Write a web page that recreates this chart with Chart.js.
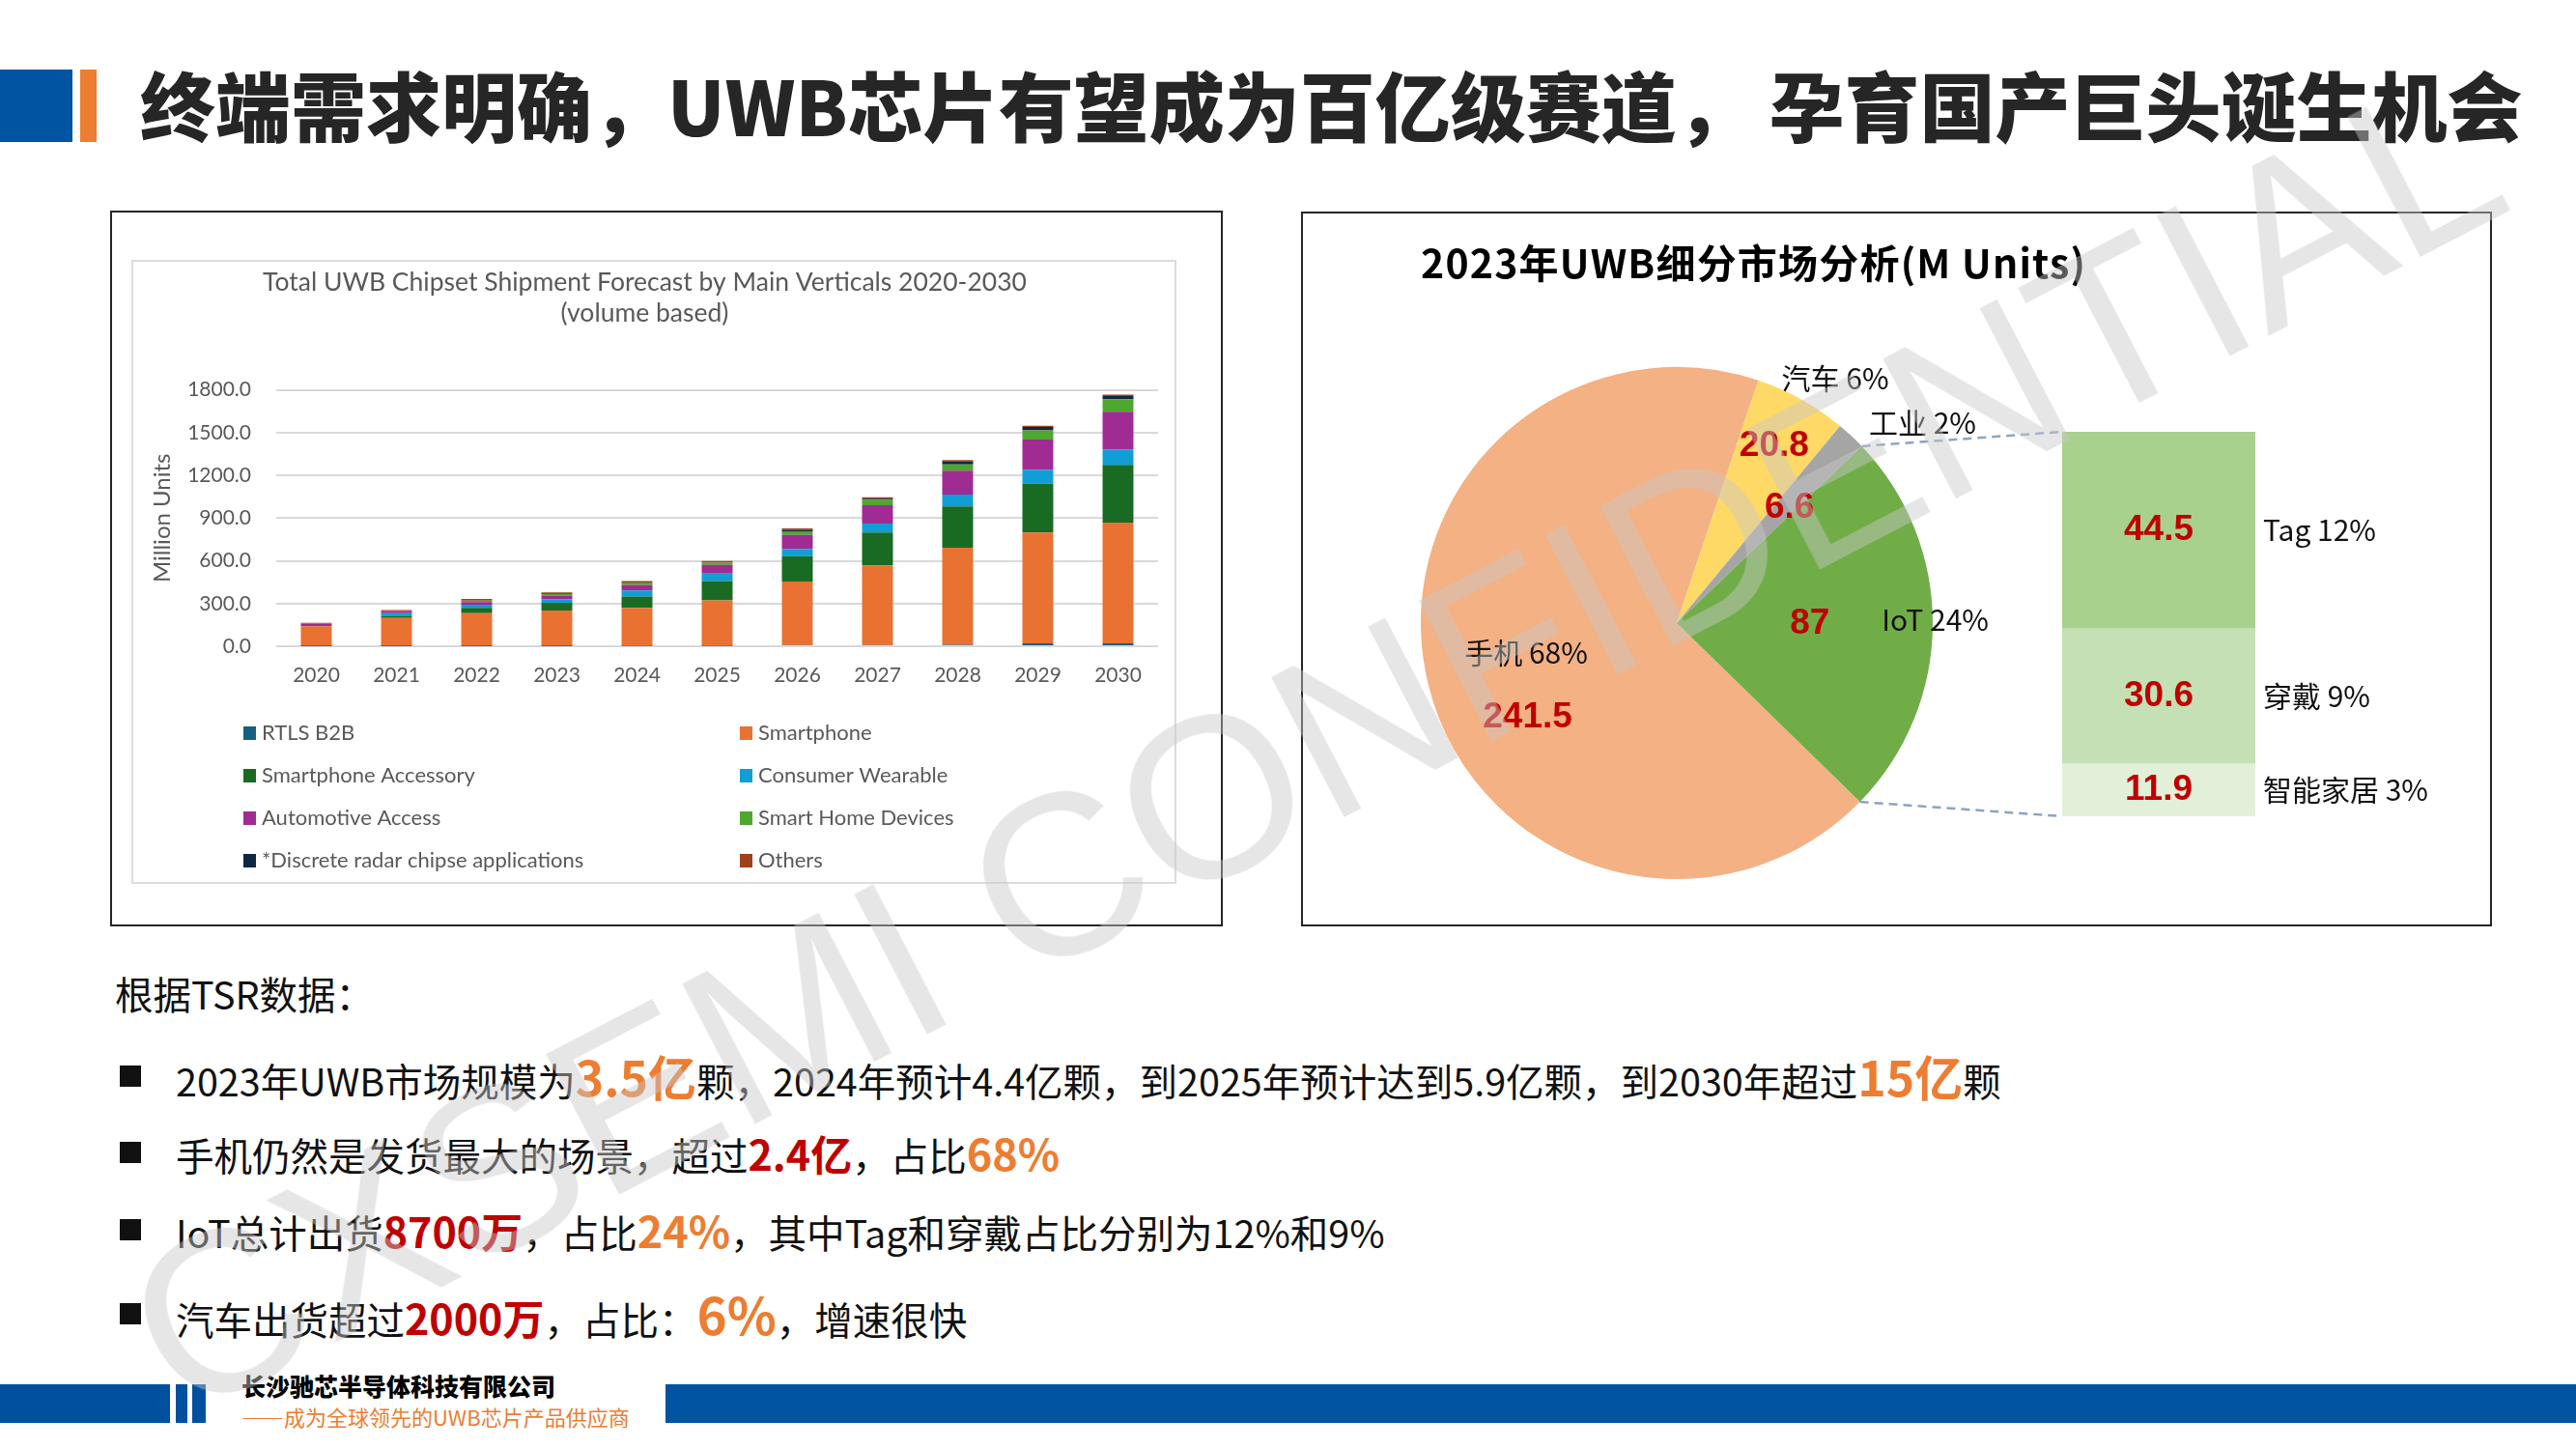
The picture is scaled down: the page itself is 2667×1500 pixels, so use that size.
<!DOCTYPE html>
<html lang="zh-CN">
<head>
<meta charset="UTF-8">
<title>UWB芯片市场</title>
<script src="https://cdn.jsdelivr.net/npm/chart.js"></script>
<style>
  body { margin:0; width:2667px; height:1500px; background:#fff; position:relative; overflow:hidden;
         font-family:"Noto Sans CJK SC", sans-serif; color:#111; }
  .abs { position:absolute; }
  .title { left:145px; top:68px; font-size:78px; line-height:78px; font-weight:900; color:#262626; white-space:nowrap; }
  .frame { border:2px solid #262626; box-sizing:border-box; }
  .inner { border:2px solid #dcdcdc; box-sizing:border-box; }
  .line { left:182px; height:50px; line-height:50px; font-size:39.5px; white-space:nowrap; }
  .line b { font-weight:700; }
  .o { color:#ED7D31; }
  .r { color:#C00000; }
  .sq { left:124px; width:22px; height:22px; background:#111; }
  .wm { left:-140px; top:651px; width:3000px; text-align:center; font:238px/238px "Liberation Sans", Arial, sans-serif;
        color:rgba(200,200,200,0.45); transform:rotate(-27.5deg); white-space:nowrap; pointer-events:none; }
</style>
</head>
<body>

<div class="abs" style="left:0;top:72px;width:75px;height:75px;background:#0054A2"></div>
<div class="abs" style="left:83px;top:72px;width:17px;height:75px;background:#ED7D31"></div>
<div class="abs title">终端需求明确，UWB芯片有望成为百亿级赛道， 孕育国产巨头诞生机会</div>

<div class="abs frame" style="left:114px;top:218px;width:1152px;height:741px"></div>
<div class="abs inner" style="left:136px;top:269px;width:1082px;height:646px"></div>
<canvas id="barChart" class="abs" style="left:136px;top:269px" width="1082" height="646"></canvas>

<div class="abs frame" style="left:1347px;top:219px;width:1233px;height:740px"></div>
<canvas id="pieChart" class="abs" style="left:1347px;top:219px" width="1233" height="740"></canvas>
<canvas id="iotChart" class="abs" style="left:1347px;top:219px" width="1233" height="740"></canvas>

<div class="abs line" style="left:119px;top:1003px">根据TSR数据：</div>
<div class="abs sq" style="top:1103px"></div>
<div class="abs line" style="top:1088px">2023年UWB市场规模为<b class="o" style="font-size:50px">3.5亿</b>颗，2024年预计4.4亿颗，到2025年预计达到5.9亿颗，到2030年超过<b class="o" style="font-size:50px">15亿</b>颗</div>
<div class="abs sq" style="top:1182px"></div>
<div class="abs line" style="top:1168px">手机仍然是发货最大的场景，超过<b class="r" style="font-size:43px">2.4亿</b>，占比<b class="o" style="font-size:45px">68%</b></div>
<div class="abs sq" style="top:1262px"></div>
<div class="abs line" style="top:1248px">IoT总计出货<b class="r" style="font-size:43px">8700万</b>，占比<b class="o" style="font-size:45px">24%</b>，其中Tag和穿戴占比分别为12%和9%</div>
<div class="abs sq" style="top:1349px"></div>
<div class="abs line" style="top:1334px">汽车出货超过<b class="r" style="font-size:43px">2000万</b>，占比：<b class="o" style="font-size:53px">6%</b>，增速很快</div>

<div class="abs" style="left:0;top:1433px;width:176px;height:40px;background:#0050A0"></div>
<div class="abs" style="left:182px;top:1433px;width:12px;height:40px;background:#0050A0"></div>
<div class="abs" style="left:199px;top:1433px;width:14px;height:40px;background:#0050A0"></div>
<div class="abs" style="left:689px;top:1433px;width:1978px;height:40px;background:#0054A2"></div>
<div class="abs" style="left:250px;top:1420px;font-size:25px;line-height:28px;font-weight:900;color:#000;white-space:nowrap">长沙驰芯半导体科技有限公司</div>
<div class="abs" style="left:250px;top:1453px;font-size:22px;line-height:26px;color:#ED7D31;white-space:nowrap">——成为全球领先的UWB芯片产品供应商</div>

<div class="abs wm">CXSEMI CONFIDENTIAL</div>

<script>
// ---------- 柱状图数据 (Million Units) ----------
const years = ['2020','2021','2022','2023','2024','2025','2026','2027','2028','2029','2030'];
const seriesNames = ['RTLS B2B','Smartphone','Smartphone Accessory','Consumer Wearable',
                     'Automotive Access','Smart Home Devices','*Discrete radar chipse applications','Others'];
const rtlsB2B    = [2, 2, 2, 2, 3, 3, 8, 8, 10, 20, 20];
const smartphone = [139, 196, 231, 249, 266, 319, 447, 560, 681, 778, 848];
const accessory  = [2, 16, 36, 54, 80, 136, 177, 230, 291, 343, 405];
const wearable   = [0, 19, 23, 26, 43, 52, 52, 63, 82, 98, 107];
const automotive = [16, 15, 18, 25, 39, 61, 98, 130, 168, 213, 266];
const smartHome  = [0, 0, 11, 11, 16, 16, 25, 36, 45, 64, 88];
const radar      = [0, 0, 0, 0, 0, 0, 11, 9, 21, 23, 23];
const others     = [6, 7, 12, 11, 11, 11, 9, 10, 9, 9, 9];
const yTicks = [0, 300, 600, 900, 1200, 1500, 1800];

// ---------- 饼图数据 ----------
const segLabels = ['手机', '汽车', '工业', 'IoT'];
const segValues = [241.5, 20.8, 6.6, 87];
const segPct    = ['68%', '6%', '2%', '24%'];
const iotLabels = ['智能家居', '穿戴', 'Tag'];
const iotValues = [11.9, 30.6, 44.5];
const iotPct    = ['3%', '9%', '12%'];

const seriesData = [rtlsB2B, smartphone, accessory, wearable, automotive, smartHome, radar, others];
const seriesColors = ['#156082','#E97132','#196B24','#0F9ED5','#A02B93','#4EA72E','#0E2841','#A0401A'];
const segColors = ['#F4B183', '#FFD966', '#A5A5A5', '#70AD47'];
const iotColors = ['#E2F0D9', '#C5E0B4', '#A9D18E'];

Chart.defaults.font.family = 'Lato';

// 两列图例
const colLegend = {
  id: 'colLegend',
  afterDraw(chart, args, o) {
    const ctx = chart.ctx;
    ctx.save();
    ctx.font = '22px Lato';
    ctx.textBaseline = 'middle';
    chart.data.datasets.forEach((ds, i) => {
      const x = o.xs[i % 2], y = o.y0 + Math.floor(i / 2) * o.dy;
      ctx.fillStyle = ds.backgroundColor;
      ctx.fillRect(x, y - 7, 13, 14);
      ctx.fillStyle = '#595959';
      ctx.fillText(ds.label, x + 19, y);
    });
    ctx.restore();
  }
};

new Chart(document.getElementById('barChart'), {
  type: 'bar',
  data: {
    labels: years,
    datasets: seriesNames.map((n, i) => ({
      label: n, data: seriesData[i], backgroundColor: seriesColors[i],
      borderWidth: 0, barPercentage: 0.385, categoryPercentage: 1
    }))
  },
  options: {
    responsive: false, animation: false,
    layout: { padding: { left: 0, right: 19, top: 0, bottom: 0 } },
    plugins: {
      legend: { display: false }, tooltip: { enabled: false },
      title: {
        display: true,
        text: ['Total UWB Chipset Shipment Forecast by Main Verticals 2020-2030', '(volume based)'],
        color: '#595959', font: { size: 26.5, weight: 'normal', lineHeight: 1.2 },
        padding: { top: 8, bottom: 63 }
      },
      colLegend: { xs: [116, 630], y0: 490, dy: 44 }
    },
    scales: {
      x: {
        stacked: true,
        grid: { display: false, drawTicks: false }, border: { display: false },
        ticks: { color: '#595959', font: { size: 21 }, padding: 18, maxRotation: 0 },
        afterFit: s => { s.height = 246; }
      },
      y: {
        stacked: true, min: 0, max: 1800,
        afterBuildTicks: s => { s.ticks = yTicks.map(v => ({ value: v })); },
        ticks: { callback: v => v.toFixed(1), color: '#595959', font: { size: 21 }, padding: 26 },
        grid: { color: '#d9d9d9', lineWidth: 2, drawTicks: false }, border: { display: false },
        title: { display: true, text: 'Million Units', color: '#595959', font: { size: 24 }, padding: { top: 18 } },
        afterFit: s => { s.width = 150; }
      }
    }
  },
  plugins: [colLegend]
});

// 饼图标题 + 标签: 名称和数值位置 (相对扇区中心角的偏移角度 a, 半径比例 f)
const pieLabels = {
  id: 'pieLabels',
  afterDraw(chart, args, o) {
    const ctx = chart.ctx;
    ctx.save();
    ctx.textBaseline = 'middle';
    ctx.textAlign = 'left';
    ctx.font = 'bold 41px "Noto Sans CJK SC"';
    ctx.letterSpacing = '1.2px';
    ctx.fillStyle = '#000';
    ctx.fillText(o.title, chart.chartArea.left, 53);
    ctx.letterSpacing = '0px';
    ctx.textAlign = 'center';
    chart.getDatasetMeta(0).data.forEach((arc, i) => {
      const mid = (arc.startAngle + arc.endAngle) / 2;
      const at = p => {
        const a = mid + p.a * Math.PI / 180;
        return [arc.x + Math.cos(a) * arc.outerRadius * p.f, arc.y + Math.sin(a) * arc.outerRadius * p.f];
      };
      let [x, y] = at(o.names[i]);
      ctx.font = '30px "Noto Sans CJK SC"';
      ctx.fillStyle = '#111';
      ctx.fillText(segLabels[i] + ' ' + segPct[i], x, y);
      [x, y] = at(o.values[i]);
      ctx.font = 'bold 37px "Liberation Sans", Arial';
      ctx.fillStyle = '#C00000';
      ctx.fillText(String(segValues[i]), x, y);
    });
    ctx.restore();
  }
};

const pieChart = new Chart(document.getElementById('pieChart'), {
  type: 'pie',
  data: { labels: segLabels, datasets: [{ data: segValues, backgroundColor: segColors, borderWidth: 0 }] },
  options: {
    responsive: false, animation: false, rotation: 134.3,
    layout: { padding: { left: 124, right: 579, top: 161, bottom: 49 } },
    plugins: {
      legend: { display: false }, tooltip: { enabled: false },
      pieLabels: {
        title: '2023年UWB细分市场分析(M Units)',
        names:  [{ a: 2.3, f: 0.60 }, { a: 3.8, f: 1.14 }, { a: 7.8, f: 1.24 }, { a: -1, f: 1.01 }],
        values: [{ a: -18.8, f: 0.69 }, { a: -0.3, f: 0.79 }, { a: 1.4, f: 0.63 }, { a: 0, f: 0.52 }]
      }
    }
  },
  plugins: [pieLabels]
});

// IoT 细分柱: 虚线连接 + 标签
const iotDeco = {
  id: 'iotDeco',
  beforeDatasetsDraw(chart) {
    const arc = pieChart.getDatasetMeta(0).data[3];
    const bar = chart.getDatasetMeta(0).data[0];
    const left = bar.x - bar.width / 2;
    const ctx = chart.ctx;
    ctx.save();
    ctx.strokeStyle = '#8FA3BF';
    ctx.lineWidth = 2.5;
    ctx.setLineDash([9, 6]);
    [[arc.startAngle, chart.chartArea.top], [arc.endAngle, chart.chartArea.bottom]].forEach(([a, y]) => {
      ctx.beginPath();
      ctx.moveTo(arc.x + Math.cos(a) * arc.outerRadius, arc.y + Math.sin(a) * arc.outerRadius);
      ctx.lineTo(left, y);
      ctx.stroke();
    });
    ctx.restore();
  },
  afterDatasetsDraw(chart) {
    const ctx = chart.ctx;
    ctx.save();
    ctx.textBaseline = 'middle';
    chart.data.datasets.forEach((ds, i) => {
      const el = chart.getDatasetMeta(i).data[0];
      const y = (el.y + el.base) / 2;
      ctx.textAlign = 'center';
      ctx.font = 'bold 37px "Liberation Sans", Arial';
      ctx.fillStyle = '#C00000';
      ctx.fillText(String(iotValues[i]), el.x, y);
      ctx.textAlign = 'left';
      ctx.font = '30px "Noto Sans CJK SC"';
      ctx.fillStyle = '#111';
      ctx.fillText(iotLabels[i] + ' ' + iotPct[i], el.x + el.width / 2 + 8, y);
    });
    ctx.restore();
  }
};

new Chart(document.getElementById('iotChart'), {
  type: 'bar',
  data: {
    labels: ['IoT'],
    datasets: iotLabels.map((n, i) => ({
      label: n, data: [iotValues[i]], backgroundColor: iotColors[i],
      borderWidth: 0, barPercentage: 1, categoryPercentage: 1
    }))
  },
  options: {
    responsive: false, animation: false,
    layout: { padding: { left: 788, right: 245, top: 228, bottom: 114 } },
    scales: {
      x: { stacked: true, display: false },
      y: { stacked: true, display: false, min: 0, max: iotValues.reduce((a, b) => a + b, 0) }
    },
    plugins: { legend: { display: false }, tooltip: { enabled: false } }
  },
  plugins: [iotDeco]
});
</script>
</body>
</html>
